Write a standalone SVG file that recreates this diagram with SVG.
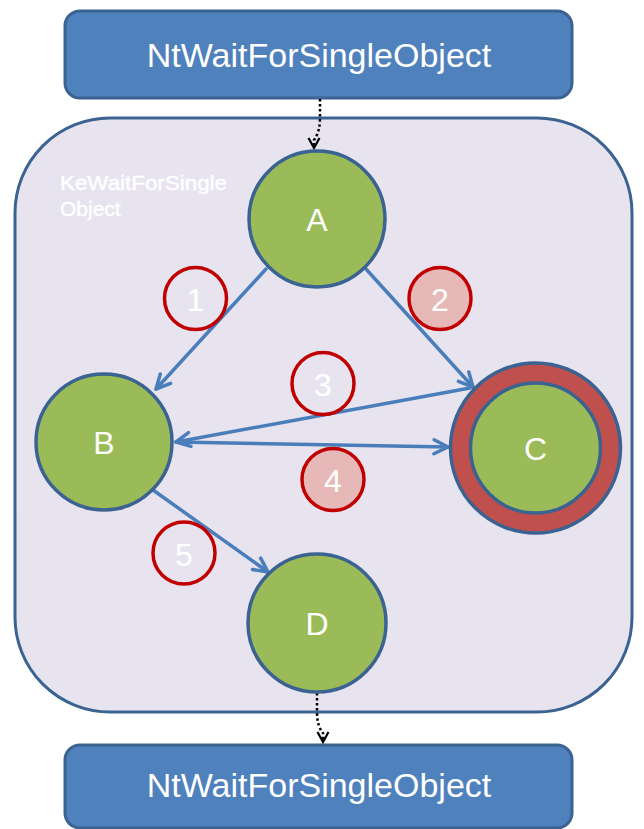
<svg xmlns="http://www.w3.org/2000/svg" width="644" height="829" viewBox="0 0 644 829">
<style>
.box{fill:#4f81bd;stroke:#3b6391;stroke-width:3}
.title{font-family:"Liberation Sans",Arial,sans-serif;font-size:34px;fill:#ffffff;text-anchor:middle}
.node{fill:#9bbb59;stroke:#3b6391;stroke-width:3.5}
.lbl{font-family:"Liberation Sans",Arial,sans-serif;font-size:32px;fill:#ffffff;text-anchor:middle}
.num{stroke:#c00000;stroke-width:3.5}
.edge{fill:none;stroke:#4a7ebb;stroke-width:3.5;stroke-linecap:round}
.dot{fill:none;stroke:#000;stroke-width:2.5;stroke-dasharray:2.5 2.5}
.sub{font-family:"Liberation Sans",Arial,sans-serif;font-size:21px;fill:#ffffff;stroke:#ffffff;stroke-width:0.4}
</style>
<defs>
<marker id="arr" viewBox="0 0 20 20" refX="17" refY="10" markerWidth="20" markerHeight="20" orient="auto" markerUnits="userSpaceOnUse">
<path d="M3,3 L17,10 L3,17" fill="none" stroke="#4a7ebb" stroke-width="3.5" stroke-linecap="round" stroke-linejoin="round"/>
</marker>
<marker id="darr" viewBox="0 0 14 14" refX="12" refY="7" markerWidth="14" markerHeight="14" orient="auto" markerUnits="userSpaceOnUse">
<path d="M2,1.5 L12,7 L2,12.5" fill="none" stroke="#000" stroke-width="2.2"/>
</marker>
</defs>
<rect width="644" height="829" fill="#ffffff"/>

<g id="container">
<rect x="15" y="118" width="617" height="594" rx="95" ry="95" fill="#e8e4ef" stroke="#3b6391" stroke-width="3"/>
<text class="sub" x="60" y="190" textLength="167" lengthAdjust="spacingAndGlyphs">KeWaitForSingle</text>
<text class="sub" x="60" y="216">Object</text>
</g>

<g id="top">
<rect class="box" x="65" y="11" width="507" height="87" rx="15" ry="15"/>
<text class="title" x="319" y="67">NtWaitForSingleObject</text>
</g>
<g id="bottom">
<rect class="box" x="65" y="745" width="507" height="83" rx="15" ry="15"/>
<text class="title" x="319" y="797">NtWaitForSingleObject</text>
</g>

<g id="connectors">
<path class="edge" d="M266,269 L156,389" marker-end="url(#arr)"/>
<path class="edge" d="M366,269 L473,387" marker-end="url(#arr)"/>
<path class="edge" d="M470,388 L176,442" marker-end="url(#arr)"/>
<path class="edge" d="M176,442 L448,447" marker-end="url(#arr)"/>
<path class="edge" d="M153,490 L268,572" marker-end="url(#arr)"/>
<path class="dot" d="M320,99 L320,118 Q320,132 314,140 L314,148" marker-end="url(#darr)"/>
<path class="dot" d="M317,693 L317,712 Q317,726 323,733 L323,742" marker-end="url(#darr)"/>
</g>

<g id="A">
<circle class="node" cx="317" cy="219" r="68"/>
<text class="lbl" x="317" y="231">A</text>
</g>
<g id="B">
<circle class="node" cx="104" cy="442" r="68"/>
<text class="lbl" x="104" y="454">B</text>
</g>
<g id="C">
<circle cx="535.5" cy="448" r="85" fill="#c0504d" stroke="#3b6391" stroke-width="3.5"/>
<circle class="node" cx="535.5" cy="448" r="65"/>
<text class="lbl" x="535.5" y="460">C</text>
</g>
<g id="D">
<circle class="node" cx="317" cy="623" r="69"/>
<text class="lbl" x="317" y="635">D</text>
</g>

<g id="n1">
<circle class="num" cx="195.5" cy="298.5" r="31" fill="none"/>
<text class="lbl" x="195.5" y="311">1</text>
</g>
<g id="n2">
<circle class="num" cx="440" cy="298.5" r="31" fill="#e6b9b8"/>
<text class="lbl" x="440" y="311">2</text>
</g>
<g id="n3">
<circle class="num" cx="323" cy="383.5" r="31" fill="none"/>
<text class="lbl" x="323" y="396">3</text>
</g>
<g id="n4">
<circle class="num" cx="333" cy="479.5" r="31" fill="#e6b9b8"/>
<text class="lbl" x="333" y="492">4</text>
</g>
<g id="n5">
<circle class="num" cx="184" cy="553" r="31" fill="none"/>
<text class="lbl" x="184" y="565.5">5</text>
</g>
</svg>
